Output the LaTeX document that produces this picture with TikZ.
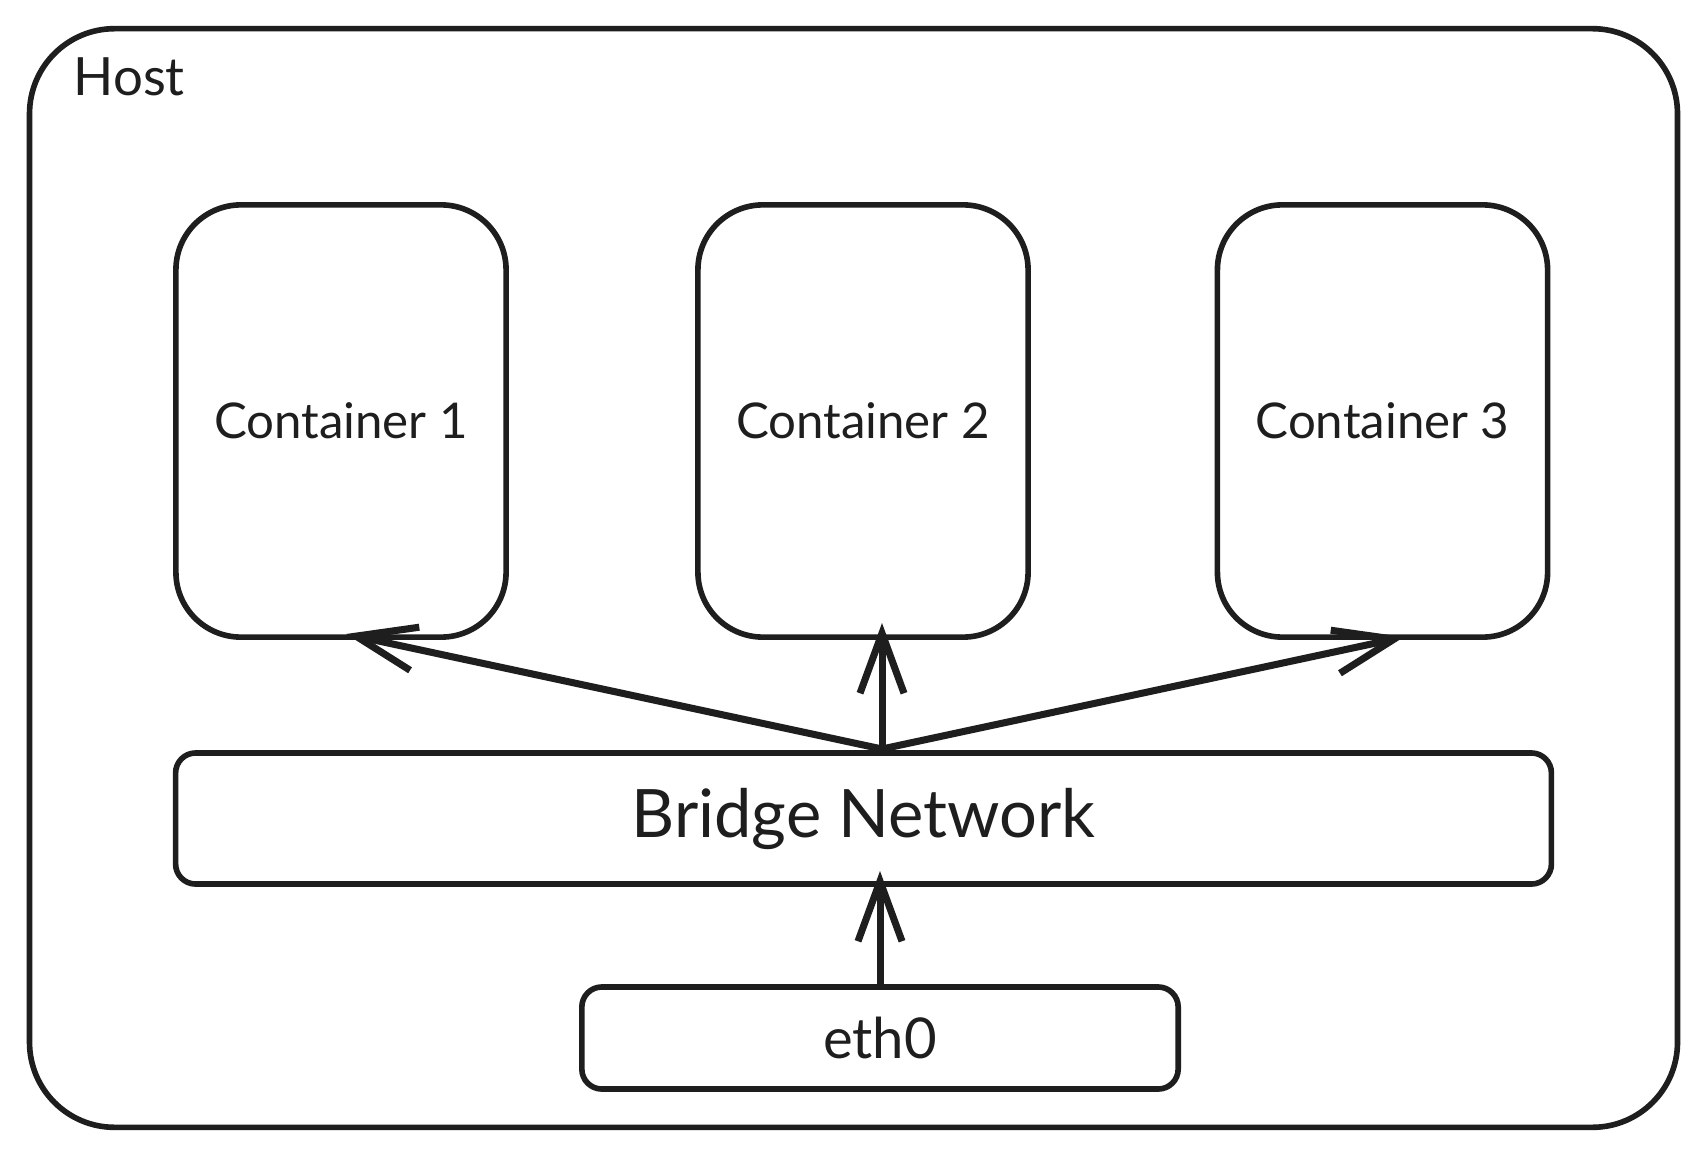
\documentclass[tikz,border=0pt]{standalone}
\usepackage{fontspec}
\setmainfont{Lato}
\usetikzlibrary{arrows.meta,calc}
\definecolor{ink}{HTML}{1E1E1E}
\begin{document}
\begin{tikzpicture}[x=0.01cm,y=-0.01cm,
  ink/.style={draw=ink,line width=1.6pt},
  cbox/.style={ink,rounded corners=0.65cm,minimum width=3.3cm,minimum height=4.32cm,font=\fontsize{14}{16}\selectfont,text=ink,inner sep=0pt},
  flat/.style={ink,rounded corners=0.2cm,inner sep=0pt,text=ink},
  conn/.style={draw=ink,line width=2pt,-{Straight Barb[length=0.6cm,width=0.44cm,line width=2pt]}}]
\useasboundingbox (0,0) rectangle (1707,1158);
\fill[white] (0,0) rectangle (1707,1158);
% host
\node[ink,rounded corners=0.85cm,minimum width=16.47cm,minimum height=10.98cm] (host) at (853.5,578) {};
\node[anchor=base west,text=ink,font=\fontsize{15}{17}\selectfont,inner sep=0pt] (hostlbl) at (73,96) {Host};
% containers
\node[cbox] (c1) at (341,421) {Container 1};
\node[cbox] (c2) at (863,421) {Container 2};
\node[cbox] (c3) at (1382.5,421) {Container 3};
% bridge
\node[flat,minimum width=13.75cm,minimum height=1.31cm,font=\fontsize{19}{22}\selectfont] (br) at (863.5,818.5) {Bridge Network};
% eth0
\node[flat,minimum width=5.96cm,minimum height=1.02cm,font=\fontsize{16}{19}\selectfont] (eth) at (880,1038) {eth0};
% arrow ends
\coordinate (bt) at (882,749);
\coordinate (t1) at (346,634);
\coordinate (t2) at (882,623);
\coordinate (t3) at (1404,637);
\coordinate (et) at (880,985);
\coordinate (eb) at (880,871);
\draw[conn] (bt) -- (t1);
\draw[conn] (bt) -- (t2);
\draw[conn] (bt) -- (t3);
\draw[conn] (et) -- (eb);
\end{tikzpicture}
\end{document}
